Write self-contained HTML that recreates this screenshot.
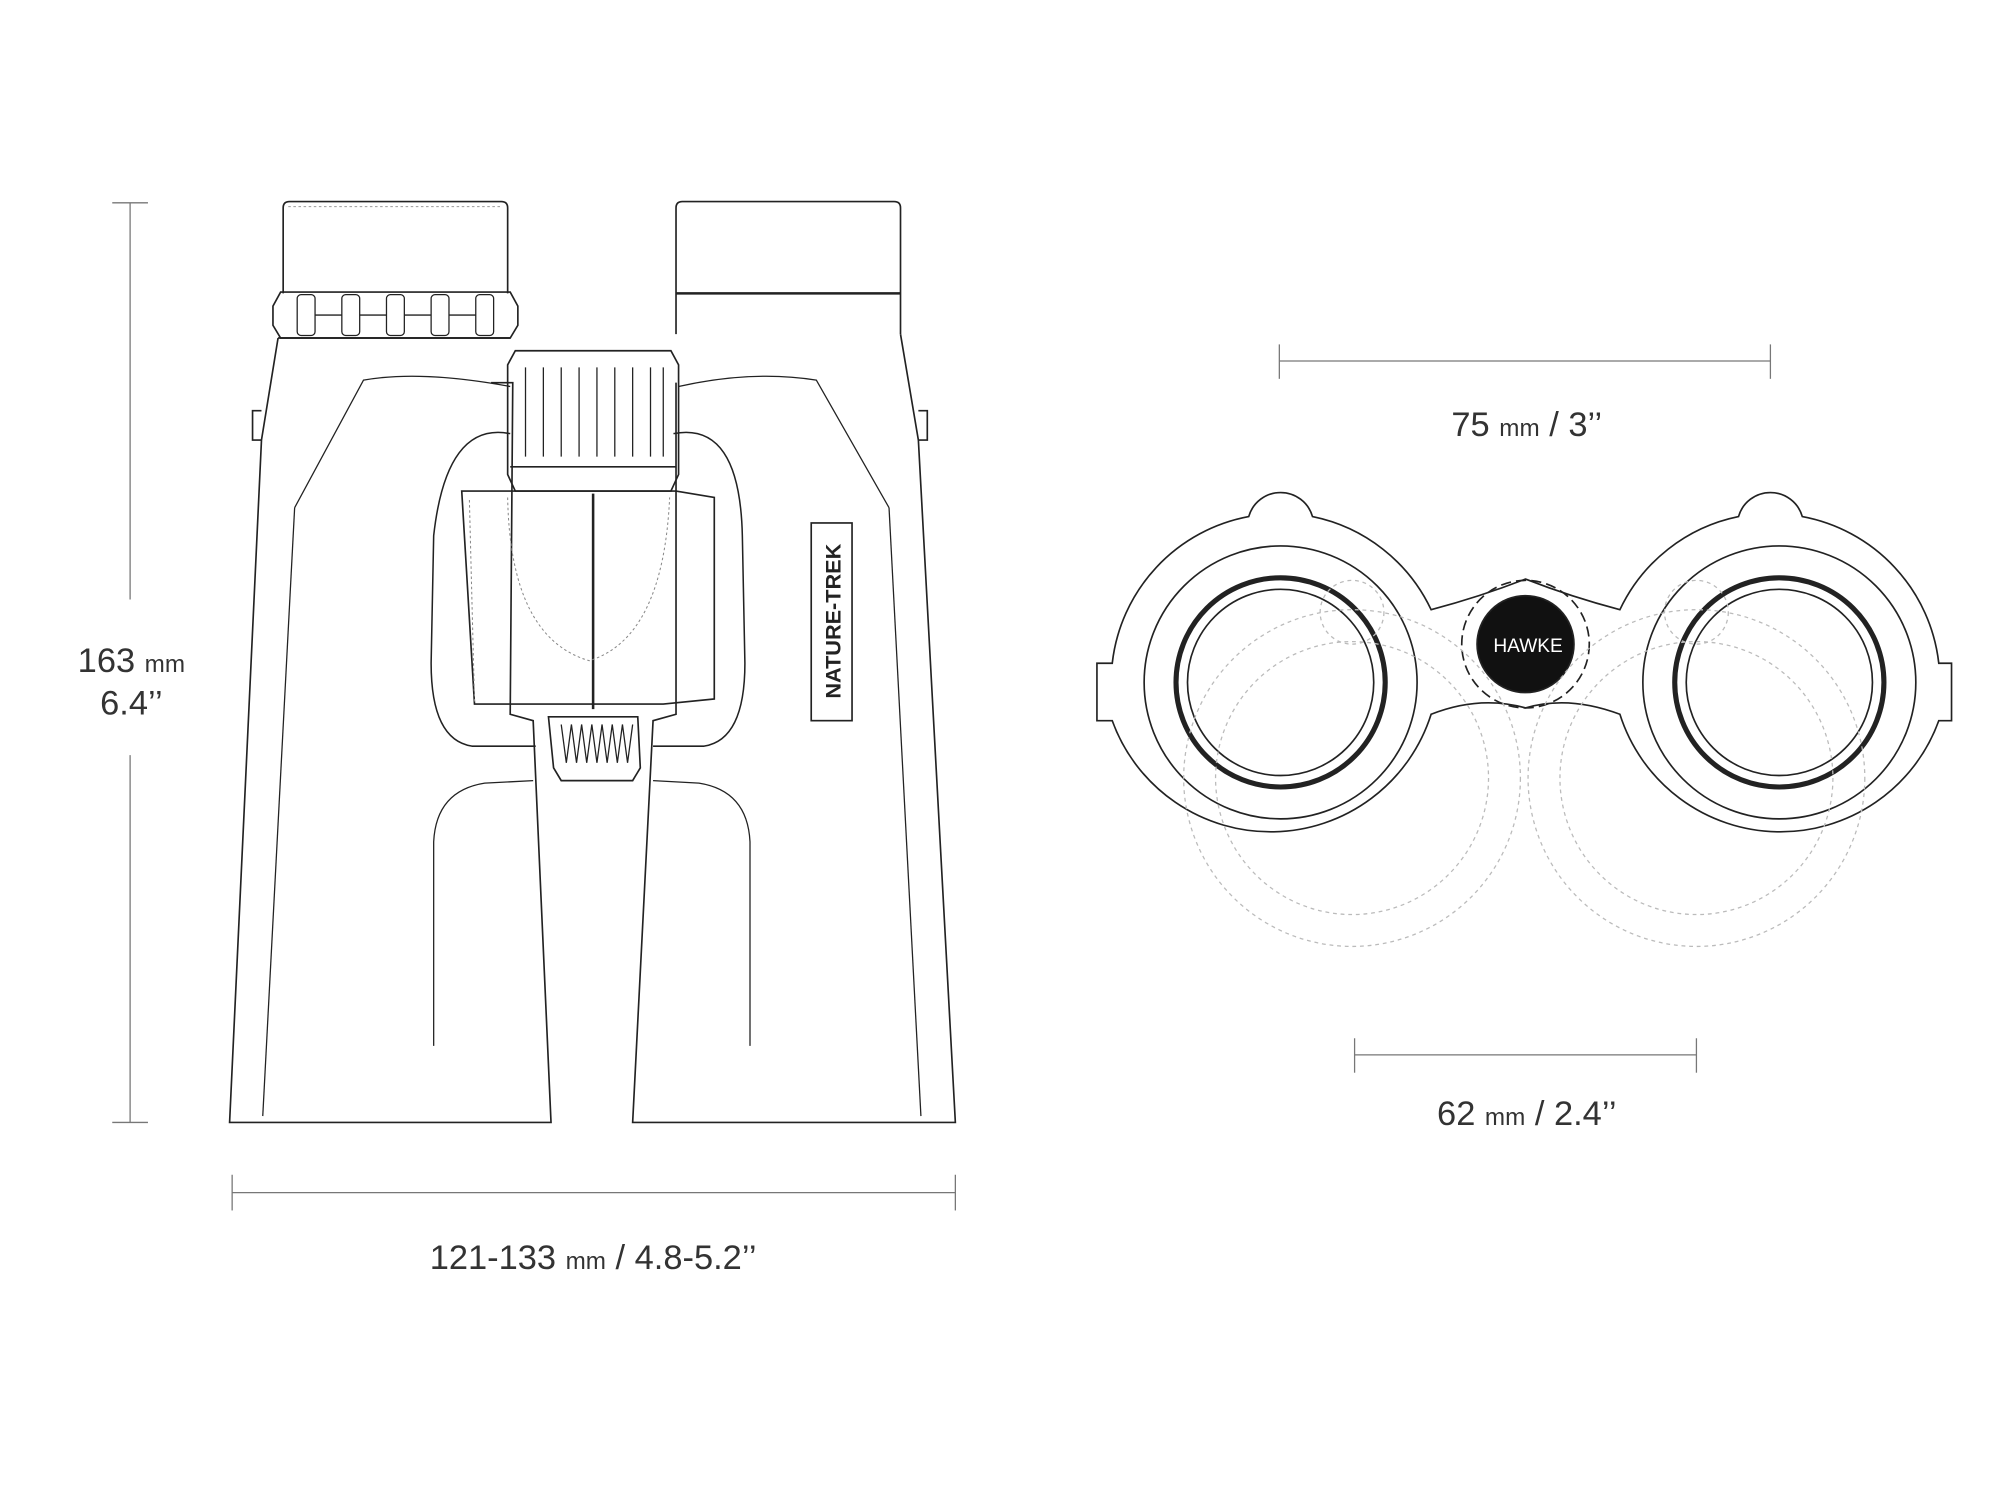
<!DOCTYPE html>
<html><head><meta charset="utf-8"><style>
html,body{margin:0;padding:0;background:#fff;}
svg{display:block}
text{font-family:"Liberation Sans",sans-serif;fill:#333;}
</style></head><body>
<svg width="2000" height="1500" viewBox="0 0 1568 1176" xmlns="http://www.w3.org/2000/svg">
<g fill="none" stroke="#222" stroke-width="1.3">
<!-- dimension lines -->
<g stroke="#777" stroke-width="1">
<line x1="102" y1="159" x2="102" y2="470"/><line x1="102" y1="592" x2="102" y2="880"/>
<line x1="88" y1="159" x2="116" y2="159"/><line x1="88" y1="880" x2="116" y2="880"/>
<line x1="182" y1="935" x2="749" y2="935"/><line x1="182" y1="921" x2="182" y2="949"/><line x1="749" y1="921" x2="749" y2="949"/>
<line x1="1003" y1="283" x2="1388" y2="283"/><line x1="1003" y1="270" x2="1003" y2="297"/><line x1="1388" y1="270" x2="1388" y2="297"/>
<line x1="1062" y1="827" x2="1330" y2="827"/><line x1="1062" y1="814" x2="1062" y2="841"/><line x1="1330" y1="814" x2="1330" y2="841"/>
</g>
<!-- left eyepiece -->
<path d="M222,230 L222,163 Q222,158 227,158 L393,158 Q398,158 398,163 L398,230"/>
<line x1="226" y1="162" x2="394" y2="162" stroke="#999" stroke-dasharray="2,2" stroke-width="0.8"/>
<path d="M220,229 L400,229 L406,240 L406,255 L400,265 L220,265 L214,255 L214,240 Z"/>
<g stroke-width="1">
<rect x="233" y="231" width="14" height="32" rx="3"/><rect x="268" y="231" width="14" height="32" rx="3"/><rect x="303" y="231" width="14" height="32" rx="3"/><rect x="338" y="231" width="14" height="32" rx="3"/><rect x="373" y="231" width="14" height="32" rx="3"/>
<line x1="247" y1="247" x2="268" y2="247"/><line x1="282" y1="247" x2="303" y2="247"/><line x1="317" y1="247" x2="338" y2="247"/><line x1="352" y1="247" x2="373" y2="247"/>
</g>
<!-- right eyepiece -->
<path d="M530,262 L530,163 Q530,158 535,158 L701,158 Q706,158 706,163 L706,262"/>
<line x1="530" y1="230" x2="706" y2="230" stroke-width="2"/>
<!-- body left -->
<path d="M218,265 L205,345 L180,880 L432,880 L418,565 L400,560 L402,300 L385,300"/>
<path d="M218,265 L400,265"/>
<path d="M205,322 L198,322 L198,345 L205,345"/>
<path d="M231,398 L285,298 Q330,290 400,303" stroke-width="1"/>
<path d="M231,398 L206,875" stroke-width="1"/>
<!-- body right -->
<path d="M706,262 L720,345 L749,880 L496,880 L512,565 L530,560 L530,300"/>
<path d="M720,322 L727,322 L727,345 L720,345"/>
<path d="M697,398 L640,298 Q590,290 532,303" stroke-width="1"/>
<path d="M697,398 L722,875" stroke-width="1"/>
<!-- bridge bumps -->
<path d="M400,340 Q350,330 340,420 L338,520 Q338,580 370,585 L420,585" stroke-width="1.2"/>
<path d="M528,340 Q580,330 582,420 L584,520 Q584,580 552,585 L512,585" stroke-width="1.2"/>
<path d="M362,385 L530,385 L560,390 L560,548 L520,552 L372,552 Z" />
<line x1="465" y1="387" x2="465" y2="556" stroke-width="2"/>
<path d="M398,390 Q400,500 462,518 Q520,500 525,390" stroke="#888" stroke-dasharray="2,2" stroke-width="0.8"/>
<line x1="368" y1="392" x2="372" y2="550" stroke="#888" stroke-dasharray="2,2" stroke-width="0.8"/>
<!-- lower hinge shapes -->
<path d="M340,820 L340,660 Q342,620 380,614 L418,612" stroke-width="1"/>
<path d="M588,820 L588,660 Q586,620 548,614 L512,612" stroke-width="1"/>
<!-- focus wheel -->
<path d="M404,275 L526,275 L532,286 L532,372 L526,385 L404,385 L398,372 L398,286 Z"/>
<line x1="400" y1="366" x2="530" y2="366"/>
<g stroke-width="1">
<path d="M412,288 v70 M426,288 v70 M440,288 v70 M454,288 v70 M468,288 v70 M482,288 v70 M496,288 v70 M510,288 v70 M520,288 v70"/>
</g>
<!-- diopter lever -->
<path d="M430,562 L500,562 L502,602 L496,612 L440,612 L434,602 Z"/>
<path d="M440,568 l4,30 l4,-30 l4,30 l4,-30 l4,30 l4,-30 l4,30 l4,-30 l4,30 l4,-30 l4,30 l4,-30 l4,30 l4,-30" stroke-width="1"/>
<!-- label -->
<rect x="636" y="410" width="32" height="155"/>

<!-- front view -->
<g>
<path d="M979,405 A26,26 0 0 1 1029,405 A132,132 0 0 1 1122,478 Q1160,468 1196,454 Q1232,468 1270,478 A132,132 0 0 1 1363,405 A26,26 0 0 1 1413,405 A132,132 0 0 1 1520,520 L1530,520 L1530,565 L1520,565 A132,132 0 0 1 1270,560 Q1230,545 1196,555 Q1160,545 1122,560 A132,132 0 0 1 872,565 L860,565 L860,520 L872,520 A132,132 0 0 1 979,405 Z"/>
<circle cx="1004" cy="535" r="107"/>
<circle cx="1004" cy="535" r="82" stroke-width="4"/>
<circle cx="1004" cy="535" r="73"/>
<circle cx="1395" cy="535" r="107"/>
<circle cx="1395" cy="535" r="82" stroke-width="4"/>
<circle cx="1395" cy="535" r="73"/>
<circle cx="1196" cy="505" r="50" stroke-dasharray="8,4"/>
<circle cx="1196" cy="505" r="38" fill="#111"/>
</g>
<g stroke="#bbb" stroke-dasharray="3,3" stroke-width="1">
<circle cx="1060" cy="610" r="132"/><circle cx="1060" cy="610" r="107"/>
<circle cx="1330" cy="610" r="132"/><circle cx="1330" cy="610" r="107"/>
<circle cx="1060" cy="480" r="25"/><circle cx="1330" cy="480" r="25"/>
</g>
</g>
<text x="103" y="527" font-size="27" text-anchor="middle">163 <tspan font-size="19">mm</tspan></text>
<text x="103" y="560" font-size="27" text-anchor="middle">6.4’’</text>
<text x="465" y="995" font-size="27" text-anchor="middle">121-133 <tspan font-size="19">mm</tspan> / 4.8-5.2’’</text>
<text x="1197" y="342" font-size="27" text-anchor="middle">75 <tspan font-size="19">mm</tspan> / 3’’</text>
<text x="1197" y="882" font-size="27" text-anchor="middle">62 <tspan font-size="19">mm</tspan> / 2.4’’</text>
<text transform="translate(659,487) rotate(-90)" font-size="17" text-anchor="middle" font-weight="bold" style="fill:#222">NATURE-TREK</text>
<text x="1198" y="511" font-size="15" text-anchor="middle" style="fill:#fff">HAWKE</text>
</svg>
</body></html>
